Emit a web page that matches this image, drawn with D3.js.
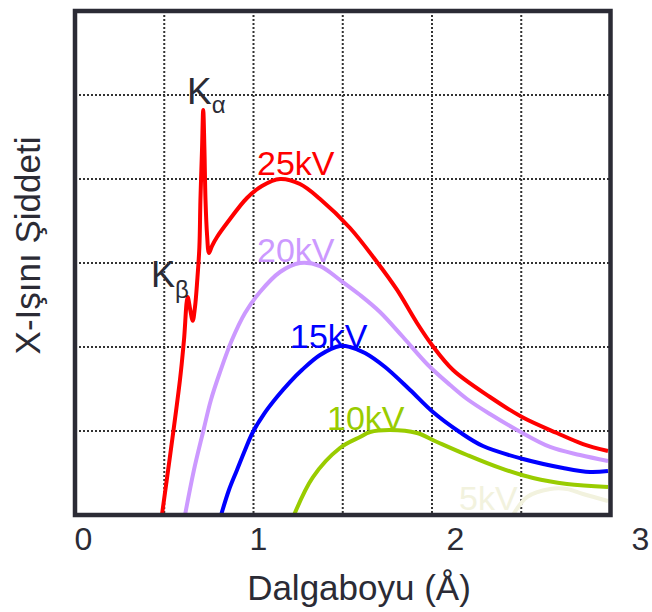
<!DOCTYPE html>
<html>
<head>
<meta charset="utf-8">
<script src="https://cdn.jsdelivr.net/npm/d3@7"></script>
<style>
  html, body { margin: 0; padding: 0; background: #fff; }
  svg { display: block; }
  text { font-family: "Liberation Sans", Arial, sans-serif; }
</style>
</head>
<body>
<svg id="chart" width="652" height="612"></svg>
<script>
// ---- Data (wavelength in Å, intensity in grid units) ----
const tickLabels = [0, 1, 2, 3];
const seriesNames = ["25kV", "20kV", "15kV", "10kV", "5kV"];

const kv25_x = [0.451, 0.554, 0.577, 0.598, 0.613, 0.627, 0.640, 0.653, 0.665, 0.671, 0.680, 0.687, 0.694, 0.700, 0.709, 0.720, 0.737, 0.766, 0.823, 0.937, 1.020, 1.112, 1.213, 1.315, 1.467, 1.604, 1.706, 1.807, 1.883, 1.990, 2.189, 2.362, 2.551, 2.692, 2.827];
const kv25_y = [0, 1.607, 2.083, 2.595, 2.440, 2.313, 2.476, 2.798, 3.190, 3.750, 4.345, 4.821, 4.345, 3.750, 3.333, 3.119, 3.202, 3.310, 3.476, 3.774, 3.917, 4.000, 3.940, 3.762, 3.417, 3.012, 2.679, 2.286, 2.024, 1.726, 1.405, 1.167, 0.976, 0.845, 0.762];

const kv20_x = [0.583, 0.634, 0.686, 0.731, 0.783, 0.851, 0.926, 1.010, 1.112, 1.213, 1.315, 1.416, 1.518, 1.619, 1.736, 1.863, 1.975, 2.065, 2.189, 2.335, 2.514, 2.676, 2.827];
const kv20_y = [0, 0.536, 0.988, 1.369, 1.702, 2.083, 2.405, 2.655, 2.893, 3.000, 2.964, 2.798, 2.619, 2.417, 2.119, 1.786, 1.548, 1.381, 1.202, 1.012, 0.810, 0.714, 0.643];

const kv15_x = [0.789, 0.834, 0.880, 0.926, 0.971, 1.030, 1.096, 1.162, 1.223, 1.315, 1.416, 1.467, 1.543, 1.645, 1.772, 1.888, 2.025, 2.151, 2.368, 2.584, 2.730, 2.827];
const kv15_y = [0, 0.298, 0.536, 0.774, 0.988, 1.202, 1.405, 1.583, 1.726, 1.905, 2.012, 2.000, 1.929, 1.762, 1.488, 1.226, 0.988, 0.821, 0.667, 0.560, 0.512, 0.524];

const kv10_x = [1.183, 1.279, 1.416, 1.518, 1.569, 1.670, 1.807, 1.909, 2.065, 2.243, 2.422, 2.605, 2.827];
const kv10_y = [0, 0.452, 0.798, 0.929, 0.988, 1.012, 0.976, 0.869, 0.714, 0.560, 0.440, 0.369, 0.333];

const kv5_x = [2.314, 2.389, 2.514, 2.605, 2.692, 2.827];
const kv5_y = [0, 0.214, 0.310, 0.310, 0.250, 0.167];

// ---- Layout ----
const svg = d3.select("#chart");
const frame = { left: 75, right: 610.5, top: 11, bottom: 515 };
const colors = ["#ff0000", "#cc99ff", "#0000ff", "#99cc00", "#f2f2de"];
const ink = "#2b2b35";

const x = d3.scaleLinear().domain(tickLabels).range([83, 258, 455, 640]);
const y = d3.scaleLinear().domain([0, 6]).range([frame.bottom, frame.top]);
const gx = d3.scaleLinear().domain([0, 6]).range([frame.left, frame.right]);

// grid
const grid = svg.append("g").attr("stroke", "#333").attr("stroke-width", 2).attr("stroke-dasharray", "2,2");
[1, 2, 3, 4, 5].forEach(k => {
  grid.append("line").attr("x1", gx(k)).attr("x2", gx(k)).attr("y1", frame.top).attr("y2", frame.bottom);
  grid.append("line").attr("x1", frame.left).attr("x2", frame.right).attr("y1", y(k)).attr("y2", y(k));
});

// curves
const series = [
  [kv25_x, kv25_y], [kv20_x, kv20_y], [kv15_x, kv15_y], [kv10_x, kv10_y], [kv5_x, kv5_y]
];
const line = d3.line().x(d => x(d[0])).y(d => y(d[1])).curve(d3.curveCatmullRom.alpha(0.5));
series.forEach((s, i) => {
  const pts = s[0].map((v, j) => [v, s[1][j]]);
  svg.append("path").datum(pts).attr("d", line)
    .attr("fill", "none").attr("stroke", colors[i]).attr("stroke-width", 4)
    .attr("stroke-linejoin", "round");
});

// frame
svg.append("rect").attr("x", frame.left).attr("y", frame.top)
  .attr("width", frame.right - frame.left).attr("height", frame.bottom - frame.top)
  .attr("fill", "none").attr("stroke", ink).attr("stroke-width", 4.5);

// x axis tick labels
const axis = svg.append("g").attr("transform", `translate(0,${frame.bottom})`)
  .call(d3.axisBottom(x).tickValues(tickLabels).tickSize(0).tickPadding(12).tickFormat(d3.format("d")));
axis.select(".domain").remove();
axis.selectAll("text").attr("font-size", 32).attr("fill", ink)
  .style("font-family", '"Liberation Sans", Arial, sans-serif');

// axis titles
svg.append("text").attr("x", 359).attr("y", 600).attr("text-anchor", "middle")
  .attr("font-size", 35).attr("fill", ink).text("Dalgaboyu (Å)");
svg.append("text").attr("transform", "translate(40,245.5) rotate(-90)").attr("text-anchor", "middle")
  .attr("font-size", 35).attr("fill", ink).text("X-Işını Şiddeti");

// curve labels
const labelPos = [[257, 175], [257, 262], [290, 348], [327, 430], [459, 510]];
seriesNames.forEach((n, i) => {
  svg.append("text").attr("x", labelPos[i][0]).attr("y", labelPos[i][1])
    .attr("font-size", 34).attr("fill", colors[i]).text(n);
});

// K lines
const ka = svg.append("text").attr("x", 187).attr("y", 104).attr("fill", ink);
ka.append("tspan").attr("font-size", 37).text("K");
ka.append("tspan").attr("font-size", 24).attr("dy", 9).text("α");
const kb = svg.append("text").attr("x", 151).attr("y", 287).attr("fill", ink);
kb.append("tspan").attr("font-size", 36).text("K");
kb.append("tspan").attr("font-size", 24).attr("dy", 11).text("β");
</script>
</body>
</html>
